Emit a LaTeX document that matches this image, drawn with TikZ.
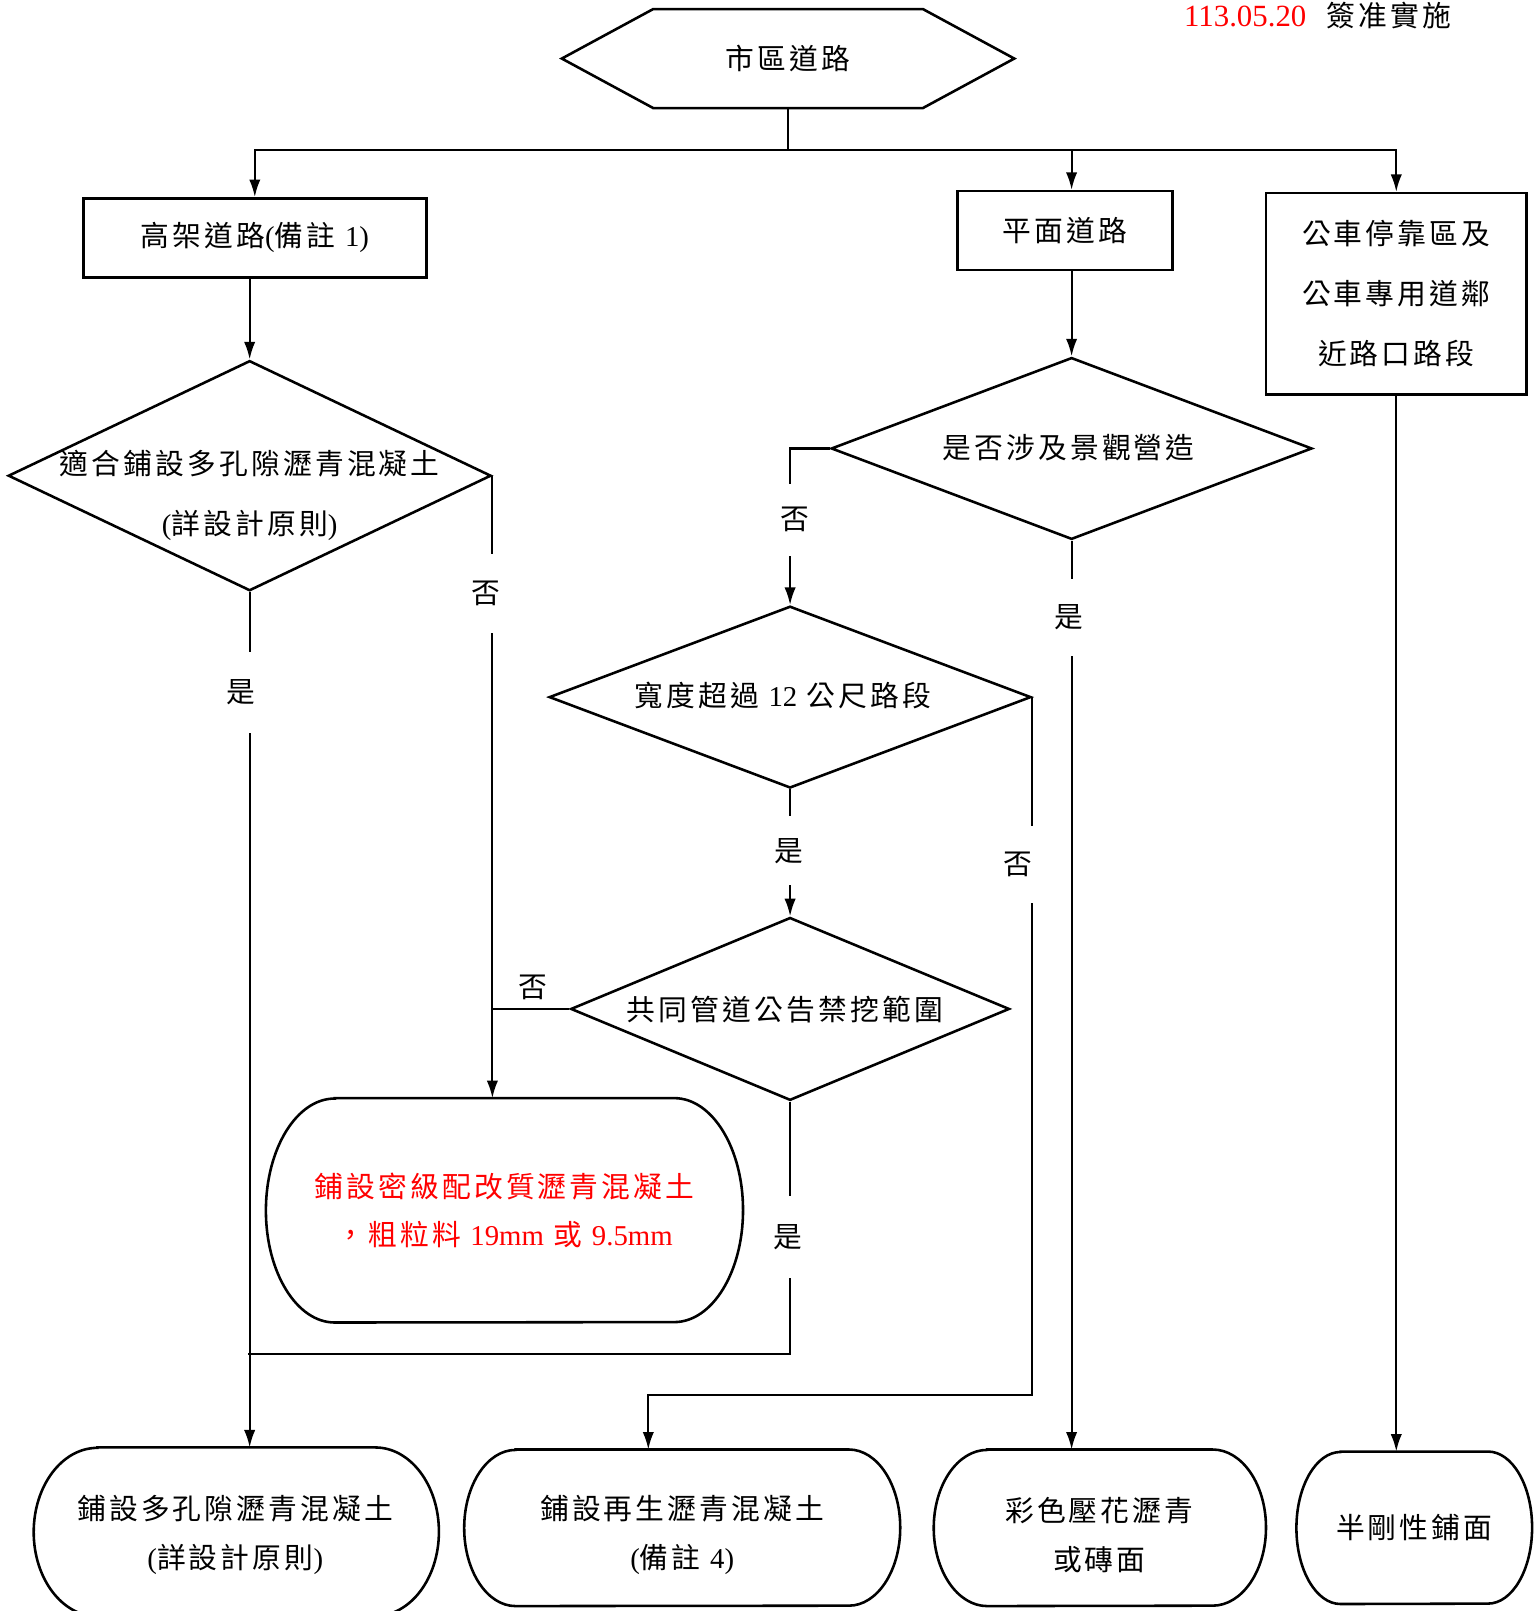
\documentclass[tikz,border=0pt]{standalone}
\usepackage{fontspec}
\setmainfont{Liberation Serif}
\newfontfamily\cjk[LetterSpace=11]{Noto Sans CJK TC}
\usetikzlibrary{shapes.geometric,arrows.meta,calc}
\newcommand\lat[1]{{\rmfamily #1}}
\newcommand\termline[4]{% name, rx, ry, unused
  \draw[shp] ([xshift=#2pt]#1.north west) -- ([xshift=-#2pt]#1.north east)
    arc[start angle=90, end angle=-90, x radius=#2pt, y radius=#3pt]
    -- ([xshift=#2pt]#1.south west)
    arc[start angle=270, end angle=90, x radius=#2pt, y radius=#3pt] -- cycle;}
\tikzset{
  shp/.style={line width=2.5pt},
  con/.style={line width=2pt},
  arr/.style={con, -{Latex[length=17pt,width=11pt]}},
  txt/.style={font=\cjk\fontsize{28}{47}\selectfont, align=center, inner sep=0pt},
  box/.style={shp, draw, rectangle, inner sep=0pt, txt},
  dia/.style={shp, draw, diamond, inner sep=0pt},
  ghost/.style={rectangle, inner sep=0pt, txt},
  lbl/.style={fill=white, inner sep=0pt, minimum width=30pt, minimum height=#1, txt},
  lbl/.default=76pt
}
\begin{document}
\begin{tikzpicture}[x=1pt,y=-1pt]
\useasboundingbox (0,0) rectangle (1493,1568);
\fill[white] (0,0) rectangle (1493,1568);
\clip (0,0) rectangle (1493,1568);

% header
\node[font=\rmfamily\fontsize{30}{30}\selectfont, text=red, inner sep=0pt] (date) at (1212,16) {113.05.20};
\node[ghost] (sign) at (1352,15) {簽准實施};

% top hexagon
\node[ghost, minimum width=440pt, minimum height=96pt] (hex) at (767,57) {市區道路};
\draw[shp] (hex.west) -- ([xshift=89pt]hex.north west) -- ([xshift=-89pt]hex.north east)
  -- (hex.east) -- ([xshift=-89pt]hex.south east) -- ([xshift=89pt]hex.south west) -- cycle;

% second row boxes
\node[box, minimum width=334pt, minimum height=77pt] (b1) at (248,231.5) {高架道路\lat{(}備註 \lat{1)}};
\node[box, minimum width=209pt, minimum height=77pt] (b2) at (1036.5,224.5) {平面道路};
\node[box, minimum width=254pt, minimum height=196pt, font=\cjk\fontsize{28}{58.5}\selectfont] (b3) at (1359,286) {公車停靠區及\\公車專用道鄰\\近路口路段};

% diamonds
\node[dia, minimum width=470pt, minimum height=224pt] (d1) at (243,463) {};
\node[ghost, font=\cjk\fontsize{28}{58}\selectfont] (t1) at (243,482) {適合鋪設多孔隙瀝青混凝土\\\lat{(}詳設計原則\lat{)}};
\node[dia, minimum width=468pt, minimum height=177pt] (d2) at (1043,436.5) {};
\node[ghost] (t2) at (1040,436) {是否涉及景觀營造};
\node[dia, minimum width=469pt, minimum height=177pt] (d3) at (769,678.5) {};
\node[ghost] (t3) at (762,677) {寬度超過 \lat{12} 公尺路段};
\node[dia, minimum width=427pt, minimum height=178pt] (d4) at (769,982) {};
\node[ghost] (t4) at (764,983) {共同管道公告禁挖範圍};

% red terminal
\node[ghost, minimum width=464pt, minimum height=218pt, text=red] (red) at (491,1178) {鋪設密級配改質瀝青混凝土\\，粗粒料 \lat{19mm} 或 \lat{9.5mm}};
\termline{red}{67}{109}{}

% bottom terminals
\node[ghost, minimum width=394pt, minimum height=164pt] (B1) at (230,1491) {};
\termline{B1}{62}{82}{}
\node[ghost] (B1t) at (229,1494) {鋪設多孔隙瀝青混凝土\\\lat{(}詳設計原則\lat{)}};
\node[ghost, minimum width=424pt, minimum height=152pt] (B2) at (664,1487) {};
\termline{B2}{50}{76}{}
\node[ghost] (B2t) at (664,1494) {鋪設再生瀝青混凝土\\\lat{(}備註 \lat{4)}};
\node[ghost, minimum width=323pt, minimum height=152pt] (B3) at (1070.5,1487) {};
\termline{B3}{52}{76}{}
\node[ghost] (B3t) at (1070,1494) {彩色壓花瀝青\\或磚面};
\node[ghost, minimum width=229pt, minimum height=148pt] (B4) at (1376.5,1487) {半剛性鋪面};
\termline{B4}{43}{74}{}

% connectors
\coordinate (j) at (767,146);
\coordinate (c1) at (631,1358);
\coordinate (c2) at (241,1318);
\draw[con] (hex.south) -- (j);
\draw[arr] (j) -| (b1.north);
\draw[arr] (j) -| (b2.north -| d2.north);
\draw[arr] (j) -| (b3.north);
\draw[arr] (b1.south -| d1.north) -- (d1.north);
\draw[arr] (d1.south) -- (d1.south |- B1.north);
\draw[arr] (d1.east) -- (d1.east |- red.north);
\draw[arr] (b2.south -| d2.north) -- (d2.north);
\draw[arr] (d2.west) -| (d3.north);
\draw[arr] (d2.south) -- (d2.south |- B3.north);
\draw[arr] (d3.south) -- (d4.north);
\draw[arr] (d3.east) |- (c1) -- (c1 |- B2.north);
\draw[shp] (d4.west) -- (d4.west -| d1.east);
\draw[con] (d4.south) |- (c2);
\draw[arr] (b3.south) -- (b3.south |- B4.north);

% labels
\node[lbl=77pt] (l1) at (473,578) {否};
\node[lbl=78pt] (l2) at (234,674) {是};
\node[lbl=70pt] (l3) at (774,506) {否};
\node[lbl=74pt] (l4) at (1040,601) {是};
\node[lbl=67pt] (l5) at (768,828) {是};
\node[lbl=75pt] (l6) at (991,841) {否};
\node[lbl=79pt] (l7) at (767,1204) {是};
\node[ghost] (l8) at (519,961) {否};
\end{tikzpicture}
\end{document}
